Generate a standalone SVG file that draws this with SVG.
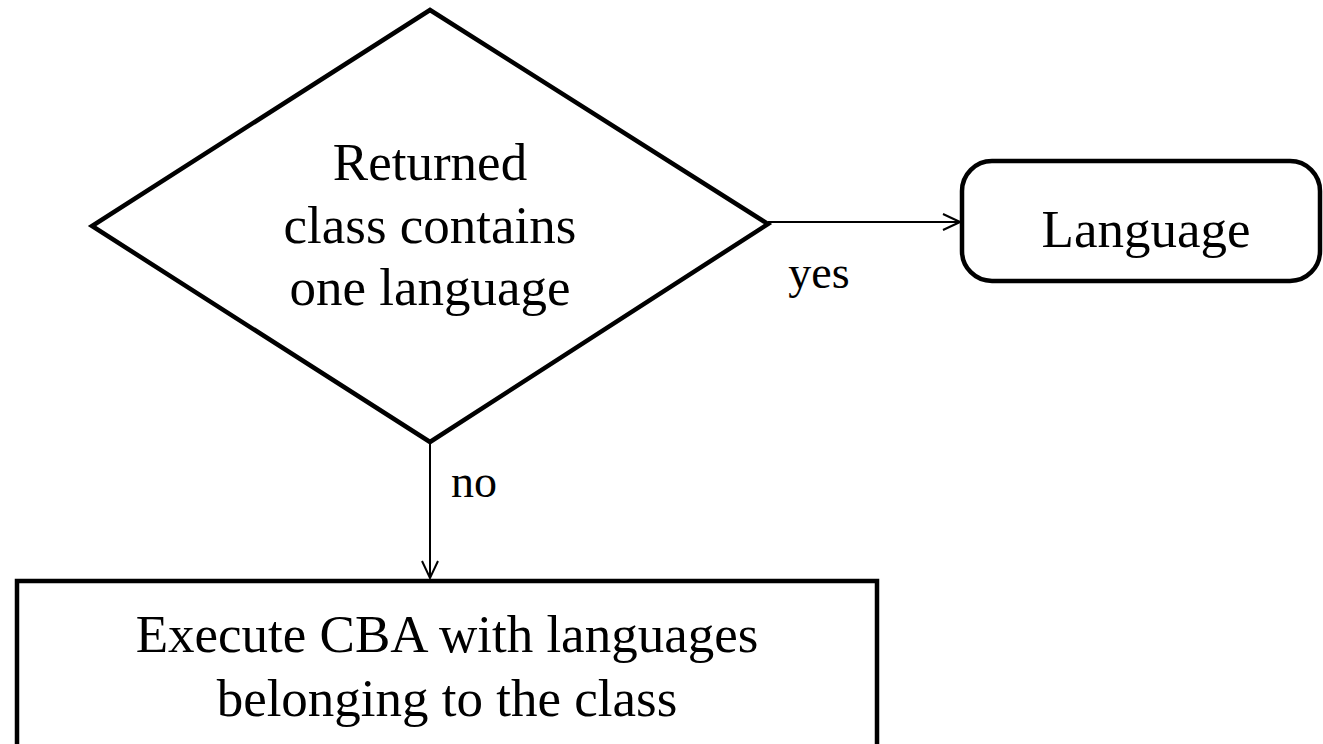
<svg xmlns="http://www.w3.org/2000/svg" width="1323" height="744" viewBox="0 0 1323 744">
<defs>
<style>
.shape{fill:#fff;stroke:#000;stroke-width:4.5}
.conn{fill:none;stroke:#000;stroke-width:2}
.t{font-family:"Liberation Serif","Times New Roman",serif;fill:#000;text-anchor:middle}
.big{font-size:53px}
.lbl{font-size:46px}
</style>
<marker id="arr" viewBox="0 0 20 20" refX="19" refY="10" markerWidth="20" markerHeight="20" markerUnits="userSpaceOnUse" orient="auto">
<path d="M2,2 L19,10 L2,18" fill="none" stroke="#000" stroke-width="2"/>
</marker>
</defs>
<rect width="1323" height="744" fill="#fff"/>
<g id="decision">
<polygon class="shape" points="430,10 768,224 430,442 92,226"/>
<text class="t big" x="430" y="180">Returned</text>
<text class="t big" x="430" y="243">class contains</text>
<text class="t big" x="430" y="305">one language</text>
</g>
<g id="language">
<rect class="shape" x="962" y="161" width="358" height="120" rx="30"/>
<text class="t big" x="1146" y="247">Language</text>
</g>
<g id="execute">
<rect class="shape" x="17" y="581" width="860" height="180"/>
<text class="t big" x="447" y="652">Execute CBA with languages</text>
<text class="t big" x="447" y="716">belonging to the class</text>
</g>
<g id="connectors">
<line class="conn" x1="768" y1="222" x2="960" y2="222" marker-end="url(#arr)"/>
<line class="conn" x1="430" y1="442" x2="430" y2="578" marker-end="url(#arr)"/>
<text class="t lbl" x="819" y="288">yes</text>
<text class="t lbl" x="474" y="497">no</text>
</g>
</svg>
